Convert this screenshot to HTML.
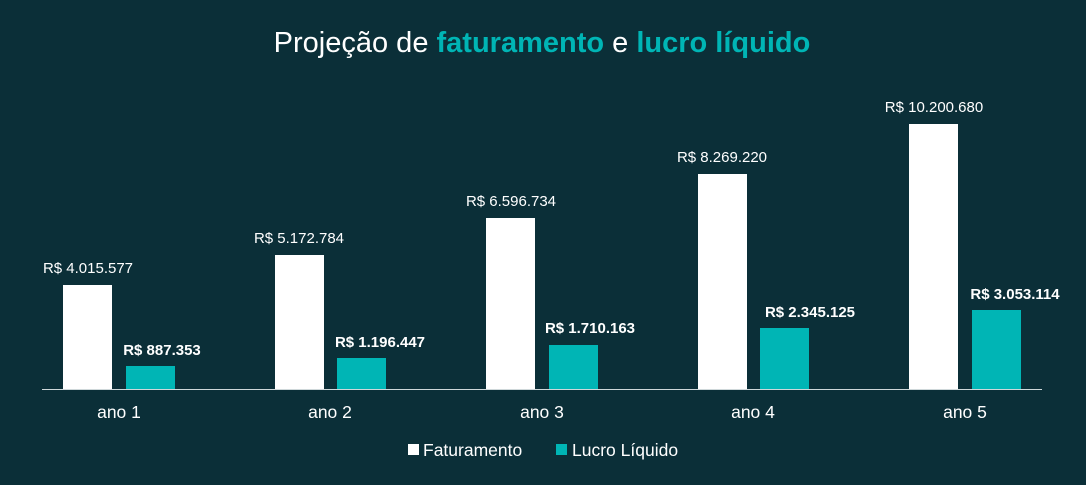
<!DOCTYPE html>
<html><head><meta charset="utf-8"><style>
body{margin:0;background:#0b2f38;}
svg{display:block;font-family:"Liberation Sans",sans-serif;}
</style></head><body>
<svg width="1086" height="485" viewBox="0 0 1086 485">
<rect width="1086" height="485" fill="#0b2f38"/>
<text x="542" y="52" text-anchor="middle" font-size="29" fill="#fff">Projeção de <tspan fill="#00b5b5" font-weight="bold">faturamento</tspan> e <tspan fill="#00b5b5" font-weight="bold">lucro líquido</tspan></text>
<g fill="#fff">
<rect x="63" y="285" width="49" height="104"/>
<rect x="275" y="255" width="49" height="134"/>
<rect x="486" y="218" width="49" height="171"/>
<rect x="698" y="174" width="49" height="215"/>
<rect x="909" y="124" width="49" height="265"/>
</g>
<g fill="#00b5b5">
<rect x="126" y="366" width="49" height="23"/>
<rect x="337" y="358" width="49" height="31"/>
<rect x="549" y="345" width="49" height="44"/>
<rect x="760" y="328" width="49" height="61"/>
<rect x="972" y="310" width="49" height="79"/>
</g>
<line x1="42" y1="389.5" x2="1042" y2="389.5" stroke="#cfd8da" stroke-width="1"/>
<g fill="#fff" font-size="15" text-anchor="middle">
<text x="88" y="273">R$ 4.015.577</text>
<text x="299" y="243">R$ 5.172.784</text>
<text x="511" y="206">R$ 6.596.734</text>
<text x="722" y="162">R$ 8.269.220</text>
<text x="934" y="112">R$ 10.200.680</text>
</g>
<g fill="#fff" font-size="15" font-weight="bold" text-anchor="middle">
<text x="162" y="355">R$ 887.353</text>
<text x="380" y="347">R$ 1.196.447</text>
<text x="590" y="333">R$ 1.710.163</text>
<text x="810" y="317">R$ 2.345.125</text>
<text x="1015" y="299">R$ 3.053.114</text>
</g>
<g fill="#fff" font-size="17.5" text-anchor="middle">
<text x="119" y="418">ano 1</text>
<text x="330" y="418">ano 2</text>
<text x="542" y="418">ano 3</text>
<text x="753" y="418">ano 4</text>
<text x="965" y="418">ano 5</text>
</g>
<rect x="408" y="444" width="11" height="11" fill="#fff"/>
<text x="423" y="456" fill="#fff" font-size="17.5">Faturamento</text>
<rect x="556" y="444" width="11" height="11" fill="#00b5b5"/>
<text x="572" y="456" fill="#fff" font-size="17.5">Lucro Líquido</text>
</svg>
</body></html>
